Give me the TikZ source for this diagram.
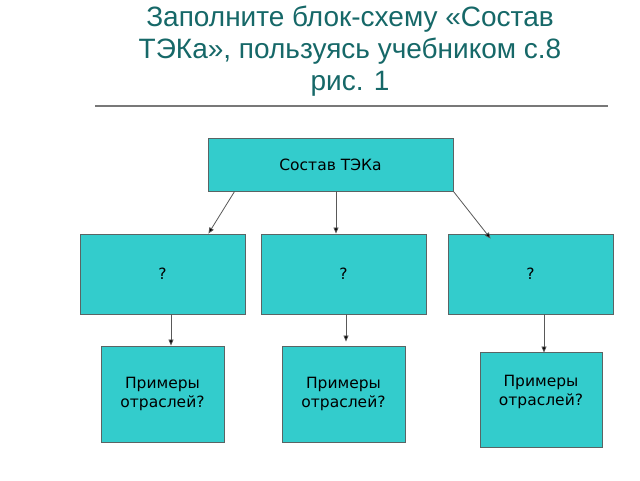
\documentclass[tikz,border=0pt]{standalone}
\usepackage{fontspec}
\setmainfont{Liberation Sans}
\newfontfamily\boxfont{DejaVu Sans}
\usetikzlibrary{arrows.meta,calc}
\definecolor{titlecol}{RGB}{22,104,104}
\definecolor{boxfill}{RGB}{51,204,204}
\definecolor{boxline}{RGB}{90,100,100}
\definecolor{rulecol}{RGB}{120,120,120}
\tikzset{
  box/.style={draw=boxline, line width=0.9pt, fill=boxfill, inner sep=0pt, align=center,
    font=\boxfont\fontsize{15.5}{19.5}\selectfont},
  arr/.style={draw=black!65, line width=0.8pt, -{Triangle[length=6pt,width=5pt,fill=black]}},
}
\begin{document}
\begin{tikzpicture}[x=1pt,y=-1pt]
\useasboundingbox (0,0) rectangle (640,480);
\fill[white] (0,0) rectangle (640,480);
% title
\node[font=\fontsize{28}{32}\selectfont, text=titlecol, align=center] (title) at (350,51)
  {Заполните блок-схему «Состав\\ТЭКа», пользуясь учебником с.8\\рис. 1};
\coordinate (r1) at (95,106);
\coordinate (r2) at (608,106);
\draw[rulecol, line width=1.8pt] (r1) -- (r2);
% boxes
\node[box, minimum width=245pt, minimum height=53pt] (top) at (330.5,164.5) {Состав ТЭКа};
\node[box, minimum width=165pt, minimum height=80pt] (m1) at (162.5,274) {?};
\node[box, minimum width=165pt, minimum height=80pt] (m2) at (343.5,274) {?};
\node[box, minimum width=165pt, minimum height=80pt] (m3) at (530.5,274) {?};
\node[box, minimum width=123pt, minimum height=96pt] (b1) at (162.5,394) {Примеры\\отраслей?};
\node[box, minimum width=123pt, minimum height=96pt] (b2) at (343.5,394) {Примеры\\отраслей?};
\node[box, minimum width=122pt, minimum height=95pt, text depth=18pt] (b3) at (541,399.5) {Примеры\\отраслей?};
% connectors
\draw[arr] ([xshift=27pt]top.south west) -- ([xshift=-37pt]m1.north east);
\draw[arr] ([xshift=5.5pt]top.south) -- ([xshift=-7.5pt]m2.north);
\draw[arr] (top.south east) -- ([xshift=43pt,yshift=-5pt]m3.north west);
\draw[arr] ([xshift=8.5pt]m1.south) -- ([xshift=8.5pt]b1.north);
\draw[arr] ([xshift=2.5pt]m2.south) -- ([xshift=2.5pt,yshift=4pt]b2.north);
\draw[arr] ([xshift=13.5pt]m3.south) -- ([xshift=3pt,yshift=-1pt]b3.north);
\end{tikzpicture}
\end{document}
